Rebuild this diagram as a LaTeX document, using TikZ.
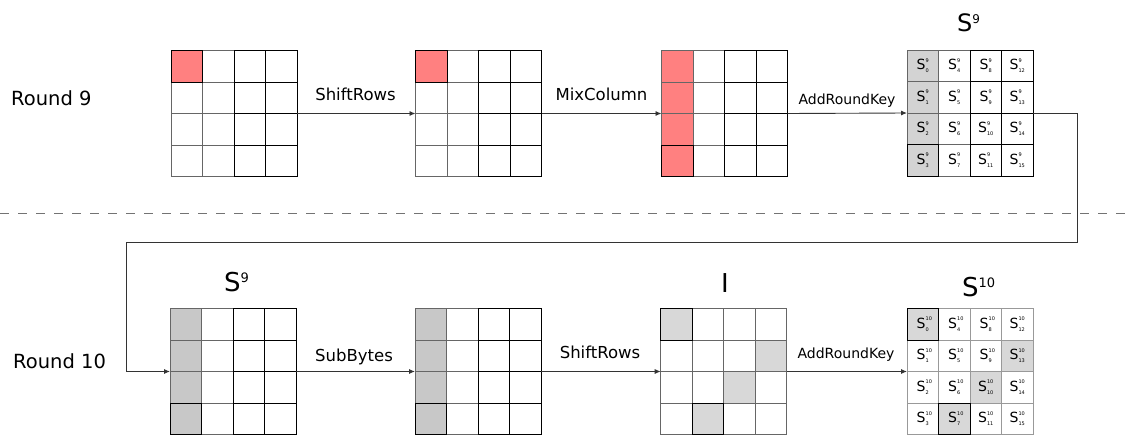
\documentclass[tikz,border=0pt]{standalone}
\usepackage{fontspec}
\setmainfont{DejaVu Sans}
\usetikzlibrary{arrows.meta,calc}
\definecolor{redc}{RGB}{255,128,128}
\definecolor{grayA}{RGB}{211,211,211}
\definecolor{grayB}{RGB}{200,200,200}
\definecolor{grayC}{RGB}{216,216,216}
\newcommand\gcell[4]{\path[#4] ($(#1.north west)+(#2*31.5,#3*31.5)$) rectangle ++(31.5,31.5);}
\newcommand\sv[2]{{\fontsize{14}{14}\selectfont S}\makebox[0pt][l]{\raisebox{7.5pt}{\fontsize{5}{5}\selectfont #1}}\raisebox{-2.8pt}{\fontsize{5}{5}\selectfont #2}}
\begin{document}
\begin{tikzpicture}[x=1pt,y=-1pt,
  gridbox/.style={minimum size=126pt, inner sep=0pt, outer sep=0pt},
  lbl/.style={font=\fontsize{16.5}{18}\selectfont, anchor=base, inner sep=0pt},
  klbl/.style={font=\fontsize{14}{16}\selectfont, anchor=base, inner sep=0pt},
  rlbl/.style={font=\fontsize{19.5}{22}\selectfont, anchor=base west, inner sep=0pt},
  ttl/.style={font=\fontsize{26}{28}\selectfont, anchor=base west, inner sep=0pt},
  flow/.style={draw=black!80, line width=0.9pt, -{Latex[length=6pt,width=5pt]}},
  cellg/.style={draw=black!60, line width=0.8pt},
  celll/.style={draw=black!40, line width=0.8pt},
  cellk/.style={draw=black, line width=0.9pt},
  celltxt/.style={inner sep=0pt}
]
\useasboundingbox (0,0) rectangle (1128,436);

% grid nodes
\node[gridbox] (g1) at (234,113.5) {};
\node[gridbox] (g2) at (478.5,113.5) {};
\node[gridbox] (g3) at (724.5,113.5) {};
\node[gridbox] (g4) at (970,113) {};
\node[gridbox] (g5) at (233,371.5) {};
\node[gridbox] (g6) at (478,371.5) {};
\node[gridbox] (g7) at (723.7,371.5) {};
\node[gridbox] (g8) at (970,371.5) {};

% dashed separator
\coordinate (dl) at (0,213);
\coordinate (dr) at (1128,213);
\draw[black!55, line width=1pt, dash pattern=on 9pt off 9pt] (dl) -- (dr);

% fills
\gcell{g1}{0}{0}{fill=redc}
\gcell{g2}{0}{0}{fill=redc}
\foreach \r in {0,...,3}{\gcell{g3}{0}{\r}{fill=redc}}
\foreach \r in {0,...,3}{\gcell{g4}{0}{\r}{fill=grayA}}
\foreach \r in {0,...,3}{\gcell{g5}{0}{\r}{fill=grayB}}
\foreach \r in {0,...,3}{\gcell{g6}{0}{\r}{fill=grayB}}
\foreach \g in {g7,g8}{
  \gcell{\g}{0}{0}{fill=grayC}
  \gcell{\g}{3}{1}{fill=grayC}
  \gcell{\g}{2}{2}{fill=grayC}
  \gcell{\g}{1}{3}{fill=grayC}
}

% grid lines
\foreach \g in {g1,g2,g3,g4,g5,g6,g7}{
  \foreach \c in {0,...,3}{\foreach \r in {0,...,3}{\gcell{\g}{\c}{\r}{cellg}}}
}
\foreach \c in {0,...,3}{\foreach \r in {0,...,3}{\gcell{g8}{\c}{\r}{celll}}}

% black cells
\foreach \g in {g1,g2,g3,g4,g5,g6}{
  \foreach \c in {2,3}{\foreach \r in {0,...,3}{\gcell{\g}{\c}{\r}{cellk}}}
}
\gcell{g1}{0}{0}{cellk}
\gcell{g2}{0}{0}{cellk}
\foreach \g in {g3,g4,g5,g6}{\gcell{\g}{0}{3}{cellk}}
\foreach \g in {g7,g8}{\gcell{\g}{0}{0}{cellk}\gcell{\g}{1}{3}{cellk}}

% cell texts
\foreach \c in {0,...,3}{\foreach \r in {0,...,3}{
  \pgfmathtruncatemacro{\n}{\c*4+\r}
  \node[celltxt] (a\n) at ($(g4.north west)+(\c*31.5+15.75,\r*31.5+15.75)$) {\sv{9}{\n}};
  \node[celltxt] (b\n) at ($(g8.north west)+(\c*31.5+15.75,\r*31.5+15.75)$) {\sv{10}{\n}};
}}

% titles
\node[ttl, font=\fontsize{24}{26}\selectfont] (t4) at (957,32) {S\raisebox{8.5pt}{\fontsize{12}{12}\selectfont 9}};
\node[ttl] (t5) at (224,291.7) {S\raisebox{9pt}{\fontsize{13}{13}\selectfont 9}};
\node[ttl] (t7) at (721,292) {I};
\node[ttl] (t8) at (962,296.7) {S\raisebox{9pt}{\fontsize{13}{13}\selectfont 10}};

% round labels
\node[rlbl] (r9) at (11,106) {Round 9};
\node[rlbl] (r10) at (13,368) {Round 10};

% connectors
\draw[flow] (g1.east) -- (g2.west);
\draw[flow] (g2.east) -- (g3.west);
\draw[flow] (g3.east) -- (g4.west);
\coordinate (c1) at (1077,242);
\coordinate (c2) at (126,242);
\draw[flow] (g4.east) -| (c1) -- (c2) |- (g5.west);
\draw[flow] (g5.east) -- (g6.west);
\draw[flow] (g6.east) -- (g7.west);
\draw[flow] (g7.east) -- (g8.west);

% connector labels
\node[lbl] (l1) at (355.5,100.7) {ShiftRows};
\node[lbl] (l2) at (601.5,101) {MixColumn};
\node[klbl] (l3) at (847,105) {AddRoundKey};
\node[lbl] (l4) at (354,361) {SubBytes};
\node[lbl] (l5) at (600,358) {ShiftRows};
\node[klbl] (l6) at (846,358) {AddRoundKey};
\end{tikzpicture}
\end{document}
